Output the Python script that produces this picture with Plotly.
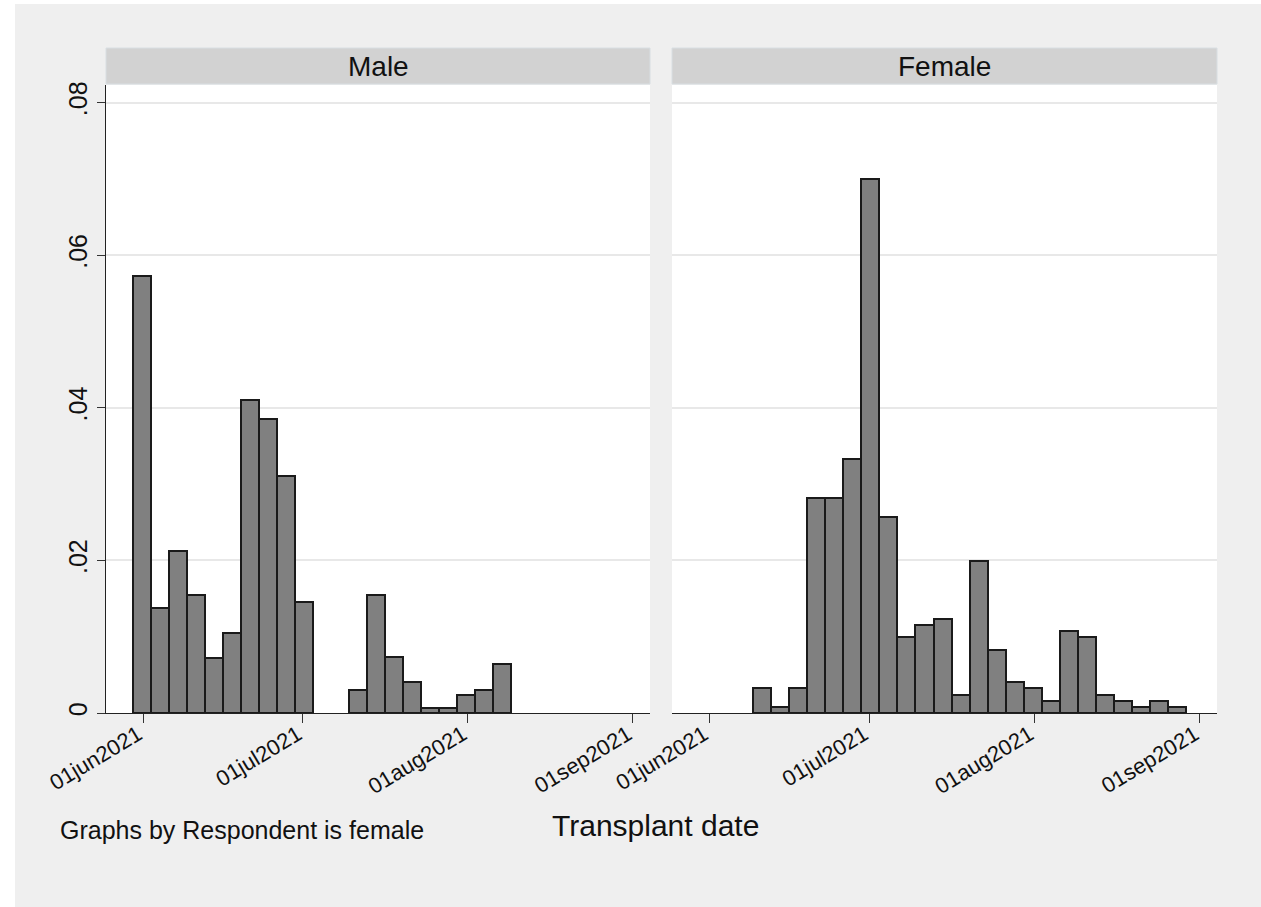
import plotly.graph_objects as go
import pandas as pd

# ---------------- data ----------------
PANELS = ["Male", "Female"]
BIN_START = "2021-05-30 03:00"
BIN_WIDTH_DAYS = 3.38

MALE_DENSITY = [0.0573, 0.0138, 0.0212, 0.0154, 0.0072, 0.0105, 0.0410, 0.0385,
                0.0311, 0.0146, 0.0, 0.0, 0.0030, 0.0154, 0.0073, 0.0040,
                0.0007, 0.0007, 0.0023, 0.0030, 0.0064]
FEMALE_DENSITY = [0.0, 0.0, 0.0, 0.0033, 0.0008, 0.0033, 0.0282, 0.0282,
                  0.0333, 0.0700, 0.0257, 0.0099, 0.0115, 0.0123, 0.0024,
                  0.0199, 0.0082, 0.0041, 0.0033, 0.0016, 0.0107, 0.0099,
                  0.0024, 0.0016, 0.0008, 0.0016, 0.0008]

TICK_DATES = ["2021-06-01", "2021-07-01", "2021-08-01", "2021-09-01"]
TICK_LABELS = ["01jun2021", "01jul2021", "01aug2021", "01sep2021"]
Y_TICKS = [0, 0.02, 0.04, 0.06, 0.08]
Y_TICK_LABELS = ["0", ".02", ".04", ".06", ".08"]
X_RANGE = ["2021-05-25 01:00", "2021-09-04 05:00"]
Y_RANGE = [0, 0.0823]

X_TITLE = "Transplant date"
NOTE = "Graphs by Respondent is female"

# ---------------- layout constants ----------------
W, H = 1261, 907
ML, MR, MT, MB = 106, 44, 85, 194
PW = W - ML - MR
PH = H - MT - MB
LEFT_DOM = [0, (650 - ML) / PW]
RIGHT_DOM = [(672 - ML) / PW, 1]

FONT = "Arial, Liberation Sans, sans-serif"
BG = "#EFEFEF"
BAR_FILL = "#808080"
BAR_LINE = "#1A1A1A"
GRID = "#E8E8E8"
STRIP = "#D2D2D2"
TXT = "#111111"

start = pd.Timestamp(BIN_START)
width = pd.Timedelta(days=BIN_WIDTH_DAYS)


def bars(dens):
    xs, ys = [], []
    for i, d in enumerate(dens):
        if d > 0:
            xs.append(start + width * (i + 0.5))
            ys.append(d)
    return xs, ys


fig = go.Figure()
for k, dens in enumerate([MALE_DENSITY, FEMALE_DENSITY]):
    xs, ys = bars(dens)
    fig.add_trace(go.Bar(
        x=xs, y=ys,
        width=[width.total_seconds() * 1000] * len(xs),
        marker=dict(color=BAR_FILL, line=dict(color=BAR_LINE, width=2)),
        xaxis="x" if k == 0 else "x2",
        yaxis="y" if k == 0 else "y2",
        showlegend=False,
        hoverinfo="x+y",
    ))

xcommon = dict(
    type="date", range=X_RANGE, tickmode="array",
    tickvals=TICK_DATES, ticktext=TICK_LABELS, tickangle=-31,
    ticks="outside", ticklen=9, tickwidth=1.3, tickcolor="#333333",
    ticklabelstandoff=-10, ticklabelshift=-5,
    showline=True, linecolor="#222222", linewidth=1.3,
    showgrid=False, zeroline=False,
    tickfont=dict(family=FONT, size=22, color=TXT),
    fixedrange=True,
)
ycommon = dict(
    range=Y_RANGE, tickmode="array", tickvals=Y_TICKS,
    showgrid=True, gridcolor=GRID, gridwidth=1.5, zeroline=False,
    domain=[0, 1], fixedrange=True,
)

fig.update_layout(
    width=W, height=H,
    margin=dict(l=ML, r=MR, t=MT, b=MB, pad=0),
    paper_bgcolor=BG, plot_bgcolor="white",
    bargap=0,
    xaxis=dict(domain=LEFT_DOM, anchor="y", **xcommon),
    xaxis2=dict(domain=RIGHT_DOM, anchor="y2", **xcommon),
    yaxis=dict(anchor="x", ticktext=Y_TICK_LABELS, tickangle=-90,
               ticks="outside", ticklen=8, tickwidth=1.3, tickcolor="#333333",
               showline=True, linecolor="#222222", linewidth=1.3,
               tickfont=dict(family=FONT, size=25, color=TXT),
               **ycommon),
    yaxis2=dict(anchor="x2", showticklabels=False, ticks="",
                showline=False, **ycommon),
    font=dict(family=FONT, color=TXT),
)

shapes = []
# thin white margins at left and top of the exported picture
shapes.append(dict(type="rect", xref="paper", yref="paper",
                   x0=-ML / PW, x1=(15 - ML) / PW,
                   y0=-MB / PH, y1=1 + MT / PH,
                   fillcolor="white", line=dict(width=0), layer="below"))
shapes.append(dict(type="rect", xref="paper", yref="paper",
                   x0=-ML / PW, x1=1 + MR / PW,
                   y0=1 + (MT - 4) / PH, y1=1 + MT / PH,
                   fillcolor="white", line=dict(width=0), layer="below"))

annotations = []
for name, dom in zip(PANELS, [LEFT_DOM, RIGHT_DOM]):
    shapes.append(dict(type="rect", xref="paper", yref="paper",
                       x0=dom[0], x1=dom[1],
                       y0=1 + (MT - 84) / PH, y1=1 + (MT - 48) / PH,
                       fillcolor=STRIP, line=dict(color="#D8DEE2", width=1)))
    annotations.append(dict(text=name, xref="paper", yref="paper",
                            x=(dom[0] + dom[1]) / 2, y=1 + (MT - 66) / PH,
                            xanchor="center", yanchor="middle", showarrow=False,
                            font=dict(family=FONT, size=28, color=TXT)))

annotations.append(dict(text=X_TITLE, xref="paper", yref="paper",
                        x=(655 - ML) / PW, y=(713 - 825) / PH,
                        xanchor="center", yanchor="middle", showarrow=False,
                        font=dict(family=FONT, size=30, color=TXT)))
annotations.append(dict(text=NOTE, xref="paper", yref="paper",
                        x=(58 - ML) / PW, y=(713 - 830) / PH,
                        xanchor="left", yanchor="middle", showarrow=False,
                        font=dict(family=FONT, size=25, color=TXT)))

fig.update_layout(shapes=shapes, annotations=annotations)

fig.write_html("out.html",
               config={"displayModeBar": False, "staticPlot": False},
               post_script="document.body.style.margin='0';document.body.style.overflow='hidden';")
